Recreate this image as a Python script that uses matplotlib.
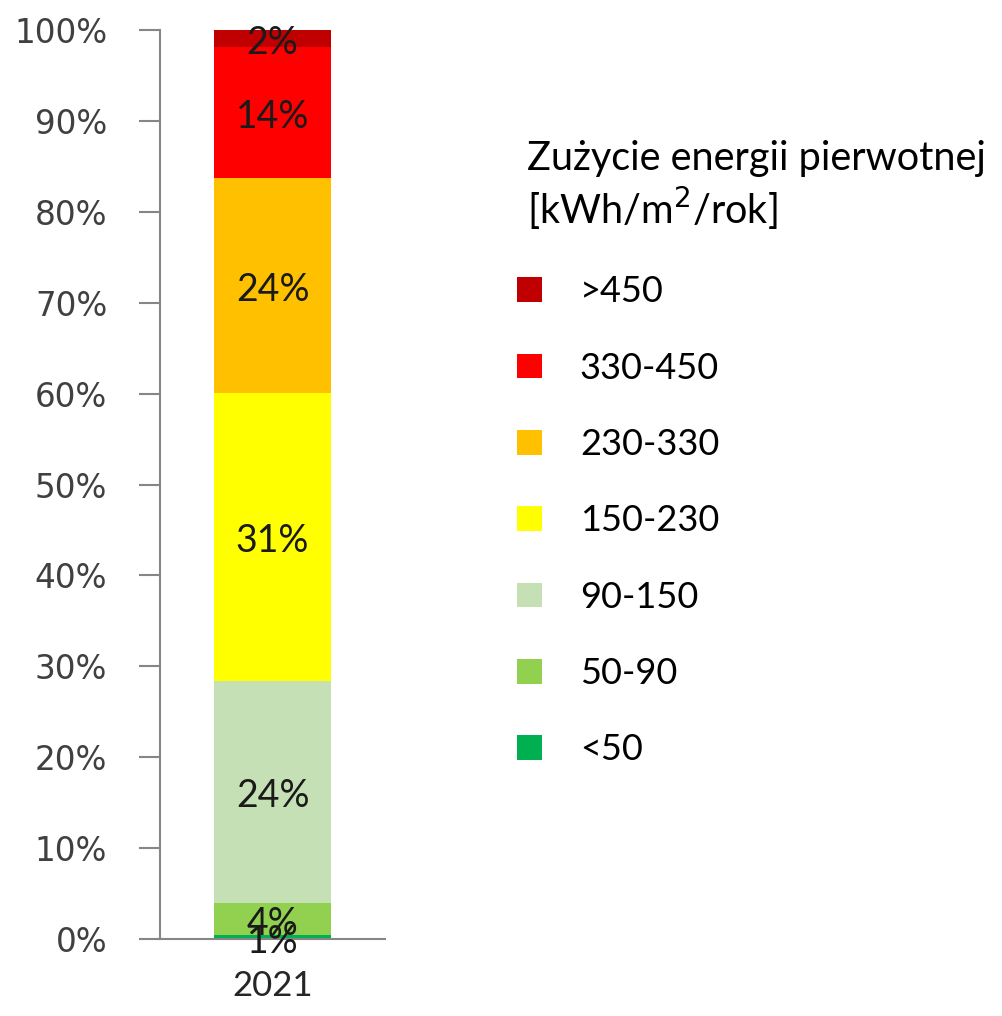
import matplotlib
matplotlib.use("Agg")
import matplotlib.pyplot as plt
from matplotlib.patches import Patch

# Data
year = ["2021"]
categories = ["<50", "50-90", "90-150", "150-230", "230-330", "330-450", ">450"]
shares = [0.4, 3.6, 24.4, 31.7, 23.6, 14.4, 1.9]
share_labels = ["1%", "4%", "24%", "31%", "24%", "14%", "2%"]
colors = ["#00B050", "#92D050", "#C5E0B4", "#FFFF00", "#FFC000", "#FF0000", "#C00000"]
yticks = [0, 10, 20, 30, 40, 50, 60, 70, 80, 90, 100]
ytick_labels = [f"{v}%" for v in yticks]
legend_title = " Zużycie energii pierwotnej\n [kWh/m$^2$/rok]"

fig = plt.figure(figsize=(10.02, 10.16), dpi=100)
ax = fig.add_axes([160 / 1002, 1 - 939 / 1016, 225 / 1002, 909 / 1016])

bottom = 0.0
for cat, val, lab, col in zip(categories, shares, share_labels, colors):
    ax.bar(year, [val], bottom=[bottom], width=0.52, color=col, label=cat)
    ax.text(0, bottom + val / 2 - 0.5, lab, ha="center", va="center",
            fontsize=27, family="Lato", color="#1a1a1a")
    bottom += val

ax.set_xlim(-0.5, 0.5)
ax.set_ylim(0, 100)
ax.set_yticks(yticks)
ax.set_yticklabels(ytick_labels, fontsize=23.5, family="DejaVu Sans", color="#404040")
ax.tick_params(axis="y", length=15, width=1.5, color="#868686", pad=23)
ax.tick_params(axis="x", length=0, pad=22, labelsize=25)
for t in ax.get_xticklabels():
    t.set_family("Lato")
    t.set_color("#262626")
for s in ["top", "right"]:
    ax.spines[s].set_visible(False)
for s in ["left", "bottom"]:
    ax.spines[s].set_color("#868686")
    ax.spines[s].set_linewidth(1.5)

leg_handles = [Patch(facecolor=c, edgecolor="none") for c in colors][::-1]
leg = fig.legend(leg_handles, categories[::-1], title=legend_title,
                 loc="upper left", bbox_to_anchor=(517 / 1002, 1 - 140 / 1016),
                 frameon=False, prop={"family": "Lato", "size": 26},
                 title_fontproperties={"family": "Lato", "size": 28.5},
                 handlelength=0.68, handleheight=0.68, handletextpad=1.06,
                 labelspacing=1.2, alignment="left", borderpad=0,
                 borderaxespad=0)

fig.savefig("out.png", dpi=100)
